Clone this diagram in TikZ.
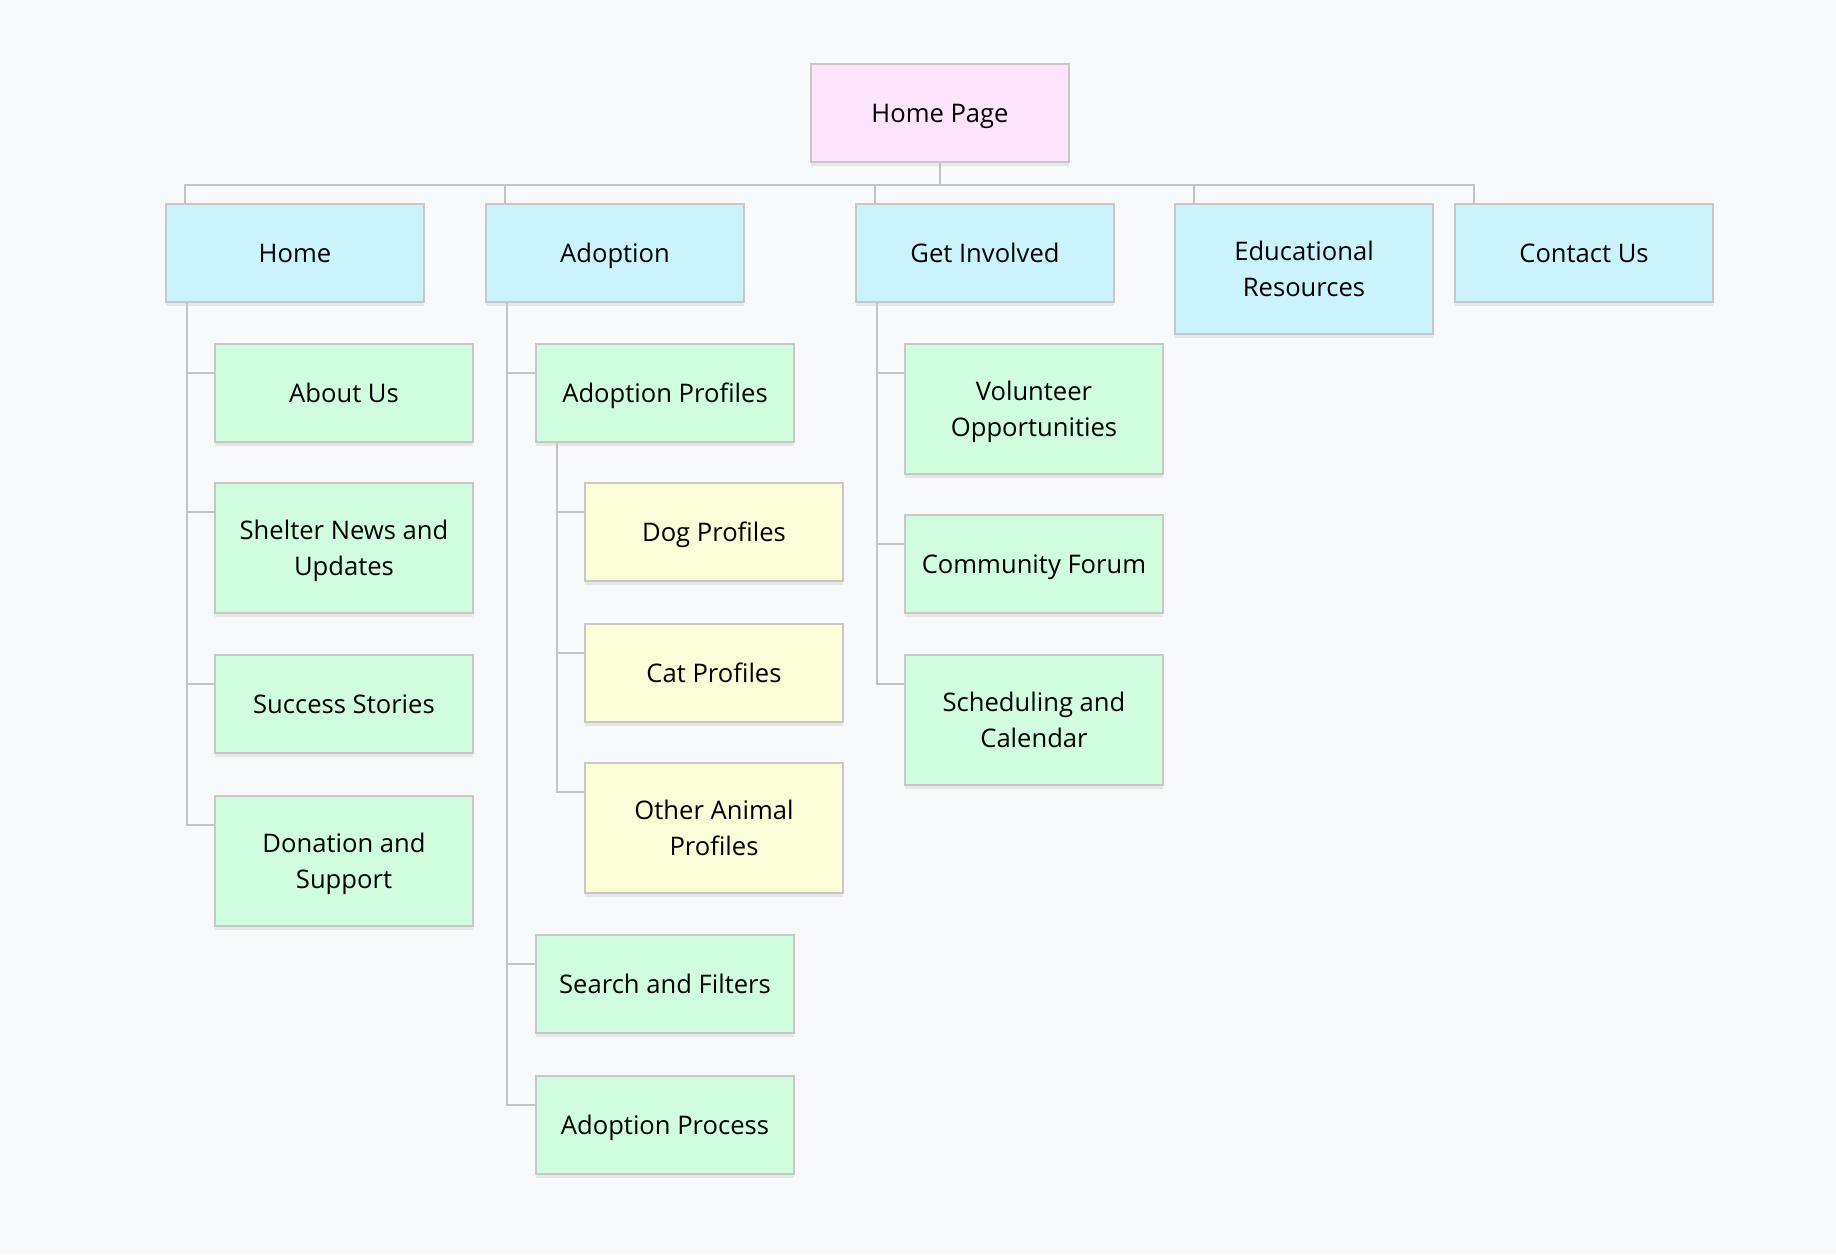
\documentclass[tikz,border=0pt]{standalone}
\usepackage{fontspec}
\setmainfont{Open Sans}
\usetikzlibrary{shadows}
\definecolor{bgc}{HTML}{F8F9FB}
\definecolor{pinkc}{HTML}{FDE4FA}
\definecolor{cyanc}{HTML}{CBF3FC}
\definecolor{greenc}{HTML}{D0FCDF}
\definecolor{yellowc}{HTML}{FBFDD8}
\definecolor{borderc}{HTML}{C8C8C8}
\definecolor{linec}{HTML}{C2C3C6}
\tikzset{
  box/.style={rectangle, draw=borderc, line width=2pt, anchor=north west,
    minimum width=258pt, minimum height=98pt, inner sep=0pt, align=center,
    font=\fontsize{25.6}{36}\selectfont, text=black,
    text height=25pt, text depth=6pt,
    drop shadow={shadow xshift=0pt, shadow yshift=-4pt, opacity=0.07, fill=black}},
  tall/.style={minimum height=130pt, text height=61pt, text depth=6pt},
  rootbox/.style={box, fill=pinkc},
  l1box/.style={box, fill=cyanc},
  l2box/.style={box, fill=greenc},
  l3box/.style={box, fill=yellowc},
  conn/.style={draw=linec, line width=2pt}
}
\begin{document}
\begin{tikzpicture}[x=1pt,y=-1pt]
\fill[bgc] (0,0) rectangle (1836,1254);
\useasboundingbox (0,0) rectangle (1836,1254);
% nodes
\node[rootbox] (root) at (810,63) {Home Page};
\node[l1box] (home) at (165,203) {Home};
\node[l1box] (adopt) at (485,203) {Adoption};
\node[l1box] (gi) at (855,203) {Get Involved};
\node[l1box, tall] (ed) at (1174,203) {Educational\\Resources};
\node[l1box] (contact) at (1454,203) {Contact Us};
\node[l2box] (about) at (214,343) {About Us};
\node[l2box, tall] (shelter) at (214,482) {Shelter News and\\Updates};
\node[l2box] (success) at (214,654) {Success Stories};
\node[l2box, tall] (donation) at (214,795) {Donation and\\Support};
\node[l2box] (aprof) at (535,343) {Adoption Profiles};
\node[l2box] (search) at (535,934) {Search and Filters};
\node[l2box] (aproc) at (535,1075) {Adoption Process};
\node[l3box] (dog) at (584,482) {Dog Profiles};
\node[l3box] (cat) at (584,623) {Cat Profiles};
\node[l3box, tall] (other) at (584,762) {Other Animal\\Profiles};
\node[l2box, tall] (vol) at (904,343) {Volunteer\\Opportunities};
\node[l2box] (forum) at (904,514) {Community Forum};
\node[l2box, tall] (sched) at (904,654) {Scheduling and\\Calendar};
% connectors
\foreach \n in {home,adopt,gi,ed,contact}
  \draw[conn] (root.south) -- ++(0,22) -| ([xshift=20pt]\n.north west);
\foreach \p/\c in {home/about,home/shelter,home/success,home/donation,
                   adopt/aprof,adopt/search,adopt/aproc,
                   aprof/dog,aprof/cat,aprof/other,
                   gi/vol,gi/forum,gi/sched}
  \draw[conn] ([xshift=22pt]\p.south west) |- ([yshift=-30pt]\c.north west);
\end{tikzpicture}
\end{document}
